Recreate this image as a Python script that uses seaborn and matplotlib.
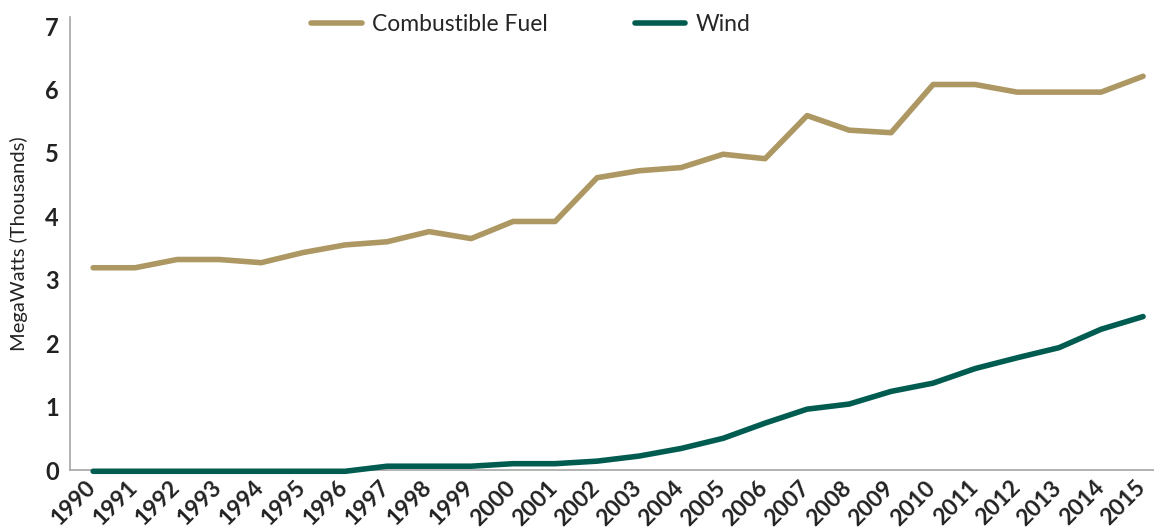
import numpy as np
import pandas as pd
import matplotlib
matplotlib.use("Agg")
import matplotlib.pyplot as plt
import matplotlib.transforms as mtransforms
import seaborn as sns

years = list(range(1990, 2016))
combustible_fuel = [3.19, 3.19, 3.32, 3.32, 3.27, 3.43, 3.55, 3.60, 3.76, 3.65,
                    3.92, 3.92, 4.61, 4.72, 4.77, 4.98, 4.91, 5.59, 5.36, 5.32,
                    6.08, 6.08, 5.96, 5.96, 5.96, 6.21]
wind = [-0.02, -0.02, -0.02, -0.02, -0.02, -0.02, -0.02, 0.06, 0.06, 0.06,
        0.10, 0.10, 0.14, 0.22, 0.34, 0.50, 0.74, 0.96, 1.04, 1.24,
        1.37, 1.60, 1.77, 1.93, 2.22, 2.42]
series_names = ["Combustible Fuel", "Wind"]
colors = ["#AD9762", "#005C50"]
y_ticks = [0, 1, 2, 3, 4, 5, 6, 7]

df = pd.DataFrame({
    "Year": years * 2,
    "Value": combustible_fuel + wind,
    "Series": [series_names[0]] * len(years) + [series_names[1]] * len(years),
})

sns.set_theme(style="white")
plt.rcParams['font.family'] = ['Lato', 'DejaVu Sans']

fig = plt.figure(figsize=(11.54, 5.29), dpi=100)
ax = fig.add_axes([0.0607, 0.1115, 0.9393, 0.857])

sns.lineplot(data=df, x="Year", y="Value", hue="Series", palette=colors,
             hue_order=series_names, linewidth=4, ax=ax, legend=False,
             solid_capstyle="round")
for ln in ax.lines:
    ln.set_clip_on(False)
    ln.set_zorder(3)

ax.set_xlim(1989.45, 2015.26)
ax.set_ylim(0, 7.15)
ax.set_yticks(y_ticks)
ax.set_yticklabels([str(t) for t in y_ticks], fontsize=17, fontweight="bold", color="#222222")
ax.set_xticks(years)
ax.set_xticklabels([str(y) for y in years], fontsize=16.5, fontweight="bold",
                   rotation=45, ha="right", rotation_mode="anchor", color="#222222")
ax.tick_params(axis="both", length=0, pad=8)
ax.tick_params(axis="x", pad=5)
offset = mtransforms.ScaledTranslation(-8 / 100, 0, fig.dpi_scale_trans)
for lbl in ax.get_xticklabels():
    lbl.set_transform(lbl.get_transform() + offset)
ax.set_xlabel("")
ax.set_ylabel("MegaWatts (Thousands)", fontsize=14.5, color="#222222", labelpad=12)

for s in ["top", "right"]:
    ax.spines[s].set_visible(False)
for s in ["left", "bottom"]:
    ax.spines[s].set_color("#A6A6A6")
    ax.spines[s].set_linewidth(1.2)
    ax.spines[s].set_zorder(2)

handles = [plt.Line2D([0], [0], color=c, lw=4, solid_capstyle="round") for c in colors]
fig.legend(handles, series_names, loc="upper center", bbox_to_anchor=(0.46, 1.012),
           ncol=2, frameon=False, fontsize=16.5, handlelength=2.2, columnspacing=3.8,
           handletextpad=0.45)

fig.savefig("out.png", dpi=100)
